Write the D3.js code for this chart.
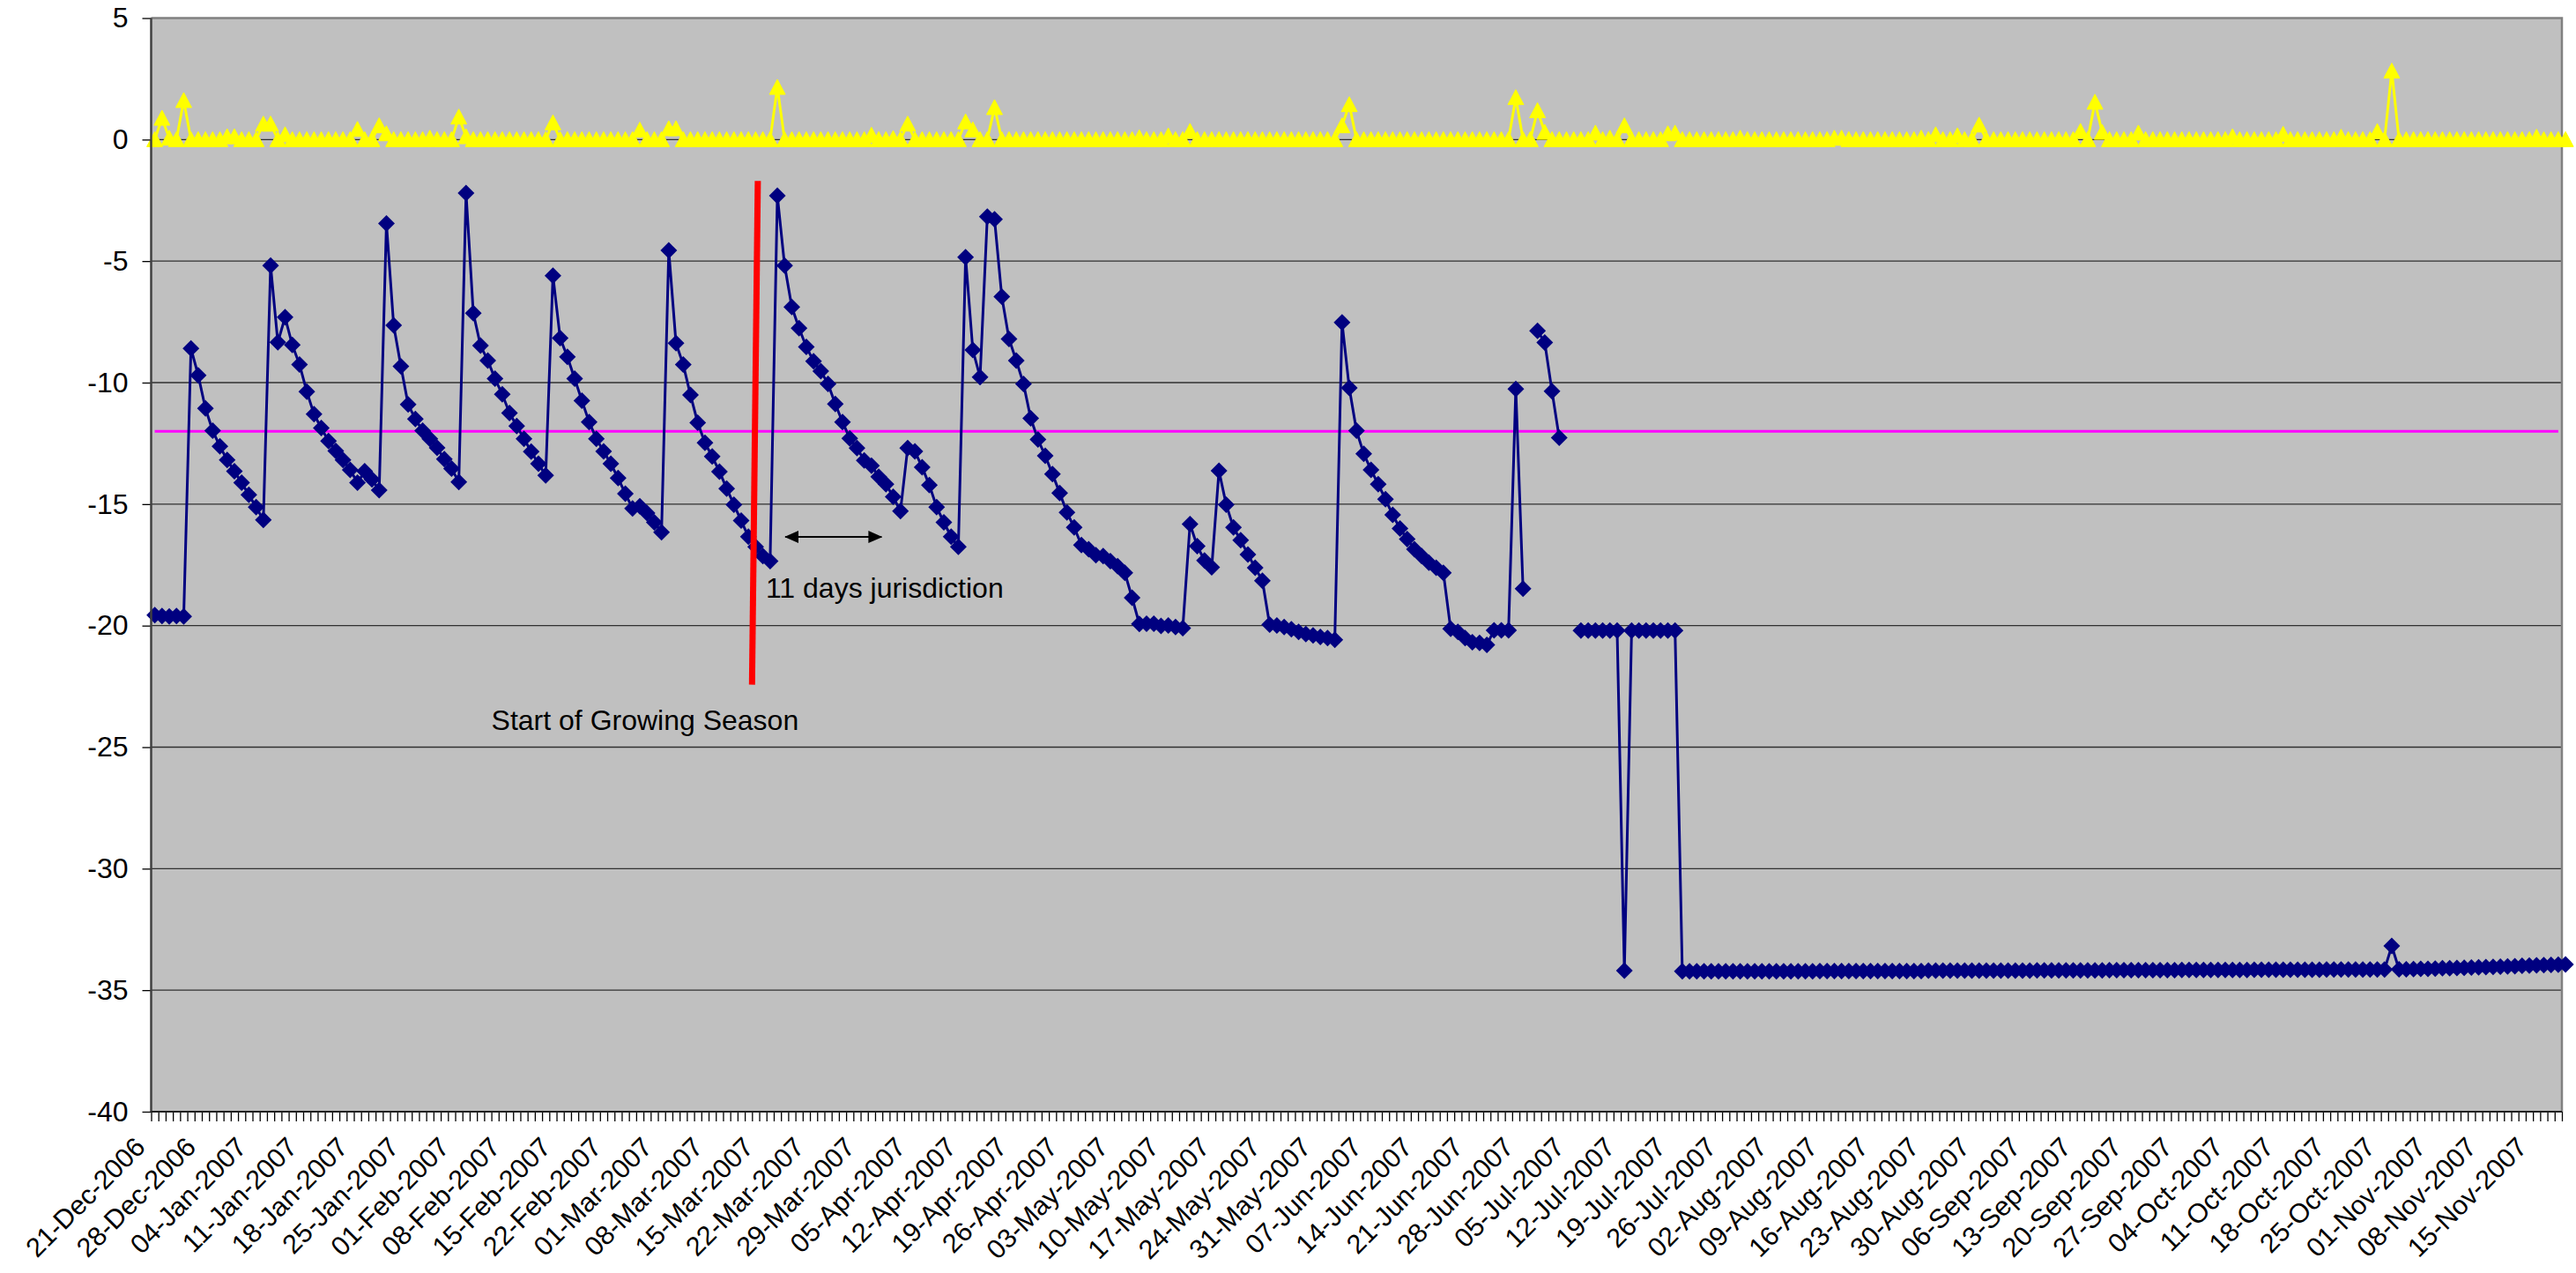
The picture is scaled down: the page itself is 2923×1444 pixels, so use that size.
<!DOCTYPE html>
<html><head><meta charset="utf-8">
<script src="https://cdn.jsdelivr.net/npm/d3@7"></script>
<style>
body{margin:0;background:#fff;}
text{font-family:"Liberation Sans",Arial,sans-serif;}
</style>
</head><body>
<svg id="chart" width="2923" height="1444"></svg>
<script>
// ---------------- data ----------------
const startDate = "2006-12-21";
const endDate = "2007-11-18";
const tickStep = 7;
const tickLabels = ["21-Dec-2006","28-Dec-2006","04-Jan-2007","11-Jan-2007","18-Jan-2007","25-Jan-2007",
"01-Feb-2007","08-Feb-2007","15-Feb-2007","22-Feb-2007","01-Mar-2007","08-Mar-2007","15-Mar-2007",
"22-Mar-2007","29-Mar-2007","05-Apr-2007","12-Apr-2007","19-Apr-2007","26-Apr-2007","03-May-2007",
"10-May-2007","17-May-2007","24-May-2007","31-May-2007","07-Jun-2007","14-Jun-2007","21-Jun-2007",
"28-Jun-2007","05-Jul-2007","12-Jul-2007","19-Jul-2007","26-Jul-2007","02-Aug-2007","09-Aug-2007",
"16-Aug-2007","23-Aug-2007","30-Aug-2007","06-Sep-2007","13-Sep-2007","20-Sep-2007","27-Sep-2007",
"04-Oct-2007","11-Oct-2007","18-Oct-2007","25-Oct-2007","01-Nov-2007","08-Nov-2007","15-Nov-2007"];
const yTickValues = [5,0,-5,-10,-15,-20,-25,-30,-35,-40];
const gridValues = [0,-5,-10,-15,-20,-25,-30,-35];

// blue series (water level)
const waterLevel = [
-19.57,-19.6,-19.62,-19.6,-19.62,-8.59,-9.7,-11.06,-11.98,-12.62,
-13.18,-13.65,-14.12,-14.62,-15.12,-15.65,-5.18,-8.34,-7.31,-8.45,
-9.26,-10.37,-11.3,-11.87,-12.4,-12.81,-13.18,-13.59,-14.12,-13.65,
-13.98,-14.43,-3.45,-7.64,-9.33,-10.9,-11.5,-11.98,-12.31,-12.68,
-13.15,-13.54,-14.09,-2.2,-7.14,-8.48,-9.09,-9.84,-10.48,-11.25,
-11.79,-12.31,-12.84,-13.34,-13.82,-5.6,-8.17,-8.94,-9.84,-10.74,
-11.62,-12.31,-12.83,-13.34,-13.93,-14.57,-15.18,-15.09,-15.37,-15.75,
-16.16,-4.56,-8.38,-9.26,-10.51,-11.65,-12.48,-13.04,-13.66,-14.36,
-15.02,-15.68,-16.34,-16.76,-17.14,-17.35,-2.31,-5.18,-6.89,-7.76,
-8.53,-9.12,-9.53,-10.05,-10.88,-11.62,-12.29,-12.69,-13.2,-13.42,
-13.87,-14.18,-14.7,-15.29,-12.69,-12.83,-13.48,-14.22,-15.12,-15.75,
-16.34,-16.76,-4.84,-8.66,-9.77,-3.17,-3.28,-6.46,-8.2,-9.09,
-10.05,-11.47,-12.34,-13.01,-13.76,-14.54,-15.34,-15.96,-16.68,-16.86,
-17.1,-17.14,-17.35,-17.55,-17.83,-18.85,-19.93,-19.92,-19.92,-20.01,
-19.99,-20.06,-20.1,-15.82,-16.73,-17.32,-17.6,-13.63,-15.02,-15.96,
-16.48,-17.07,-17.62,-18.15,-19.96,-19.99,-20.06,-20.15,-20.26,-20.35,
-20.4,-20.47,-20.51,-20.58,-7.52,-10.22,-11.98,-12.93,-13.59,-14.18,
-14.8,-15.44,-16.0,-16.44,-16.86,-17.14,-17.41,-17.62,-17.83,-20.13,
-20.26,-20.51,-20.68,-20.71,-20.79,-20.19,-20.19,-20.19,-10.26,-18.48,
null,-7.87,-8.35,-10.35,-12.27,null,null,-20.2,-20.2,-20.2,
-20.2,-20.2,-20.2,-34.2,-20.2,-20.2,-20.2,-20.2,-20.2,-20.2,
-20.2,-34.22,-34.22,-34.22,-34.22,-34.22,-34.22,-34.22,-34.22,-34.22,
-34.22,-34.22,-34.22,-34.22,-34.22,-34.22,-34.22,-34.22,-34.22,-34.22,
-34.21,-34.21,-34.21,-34.21,-34.21,-34.21,-34.21,-34.21,-34.21,-34.21,
-34.21,-34.21,-34.21,-34.21,-34.21,-34.2,-34.2,-34.2,-34.2,-34.2,
-34.2,-34.2,-34.2,-34.2,-34.2,-34.2,-34.2,-34.2,-34.2,-34.2,
-34.19,-34.19,-34.19,-34.19,-34.19,-34.19,-34.19,-34.19,-34.19,-34.19,
-34.18,-34.18,-34.18,-34.18,-34.18,-34.18,-34.18,-34.18,-34.18,-34.18,
-34.17,-34.17,-34.17,-34.17,-34.17,-34.17,-34.17,-34.17,-34.17,-34.17,
-34.16,-34.16,-34.16,-34.16,-34.16,-34.16,-34.16,-34.16,-34.16,-34.16,
-34.15,-34.15,-34.15,-34.15,-34.15,-34.15,-34.15,-34.15,-34.15,-33.18,
-34.14,-34.14,-34.13,-34.12,-34.12,-34.11,-34.1,-34.1,-34.09,-34.08,
-34.07,-34.06,-34.05,-34.04,-34.03,-34.02,-34.01,-34.0,-33.99,-33.98,
-33.97,-33.96,-33.95,-33.94];

// yellow series (rainfall)
const rainfall = [
0,0.88,0.06,0,1.61,0,0,0,0,0,
0.12,0.12,0,0,0,0.64,0.64,0,0.2,0,
0,0,0,0,0,0,0,0,0.42,0,
0,0.57,0.24,0,0,0,0,0,0.06,0,
0,0,0.93,0.12,0,0,0,0,0,0,
0,0,0,0,0,0.69,0,0,0,0,
0,0,0,0,0,0,0,0.39,0,0,
0,0.45,0.45,0,0,0,0,0,0,0,
0,0,0,0,0,0,2.15,0,0,0,
0,0,0,0,0,0,0,0,0,0.18,
0,0,0.04,0,0.64,0,0,0,0,0,
0,0,0.73,0.4,0,0,1.32,0,0,0,
0,0,0,0,0,0,0,0,0,0,
0,0,0,0,0,0,0.08,0,0,0,
0.15,0,0,0.34,0,0,0,0,0,0,
0,0,0,0,0,0,0,0,0,0,
0,0,0,0,0.57,1.44,0,0,0,0,
0,0,0,0,0,0,0,0,0,0,
0,0,0,0,0,0,0,0,1.73,0,
0,1.19,0.3,0,0,0,0,0,0,0.27,
0,0.06,0,0.57,0,0,0,0,0,0.24,
0.27,0,0,0,0,0,0,0,0,0.06,
0,0,0,0,0,0,0,0,0,0,
0,0,0.06,0.06,0,0,0,0,0,0,
0,0,0,0,0.06,0,0.2,0,0,0.16,
0,0,0.6,0,0,0,0,0,0,0,
0,0,0,0,0,0,0.34,0,1.54,0.3,
0,0,0,0,0.27,0,0,0,0,0,
0,0,0,0,0,0,0,0.12,0,0,
0,0,0,0,0.22,0,0,0,0,0,
0,0,0.1,0,0,0,0,0.33,0,2.82,
0,0,0,0,0,0,0,0,0,0,
0,0,0,0,0,0,0,0,0,0.1,
0,0,0,0];

const thresholdLevel = -12;

// annotations (category index, value)
const seasonLine = {x1: 83.3, y1: -1.7, x2: 82.5, y2: -22.43};
const seasonText = {x: 46.5, y: -24.3, label: "Start of Growing Season"};
const arrowSpan = {x1: 87.1, x2: 100.4, y: -16.35};
const arrowText = {x: 84.4, y: -18.85, label: "11 days jurisdiction"};

// ---------------- chart ----------------
const parseDay = d3.timeParse("%Y-%m-%d");
const categories = d3.timeDay.range(parseDay(startDate), d3.timeDay.offset(parseDay(endDate), 1));
const n = categories.length;

const svg = d3.select("#chart");
svg.append("rect").attr("width",2923).attr("height",1444).attr("fill","#fff");

const L = 171.5, R = 2907, T = 20.5, B = 1261;
const x = d3.scaleLinear().domain([-0.5, n - 0.5]).range([L, R]);
const y = d3.scaleLinear().domain([-40, 5]).range([B, T]);
const FS = 32;
const XFS = 30.5;

// plot background
svg.append("rect").attr("x",L).attr("y",T).attr("width",R-L).attr("height",B-T).attr("fill","#C0C0C0");

// gridlines
svg.append("g").selectAll("line").data(gridValues).join("line")
  .attr("x1",L).attr("x2",R).attr("y1",d=>y(d)).attr("y2",d=>y(d))
  .attr("stroke","#303030").attr("stroke-width",1.3);

// border top/right
svg.append("path").attr("d",`M${L},${T}H${R}V${B}`).attr("fill","none").attr("stroke","#808080").attr("stroke-width",2.5);

// threshold line
svg.append("line").attr("x1",x(0)).attr("x2",x(n-1)).attr("y1",y(thresholdLevel)).attr("y2",y(thresholdLevel))
  .attr("stroke","#FF00FF").attr("stroke-width",3);

// rainfall series
const rainLine = d3.line().defined(d=>d!=null).x((d,i)=>x(i)).y(d=>y(d));
svg.append("path").attr("d",rainLine(rainfall)).attr("fill","none").attr("stroke","#FFFF00").attr("stroke-width",3);
svg.append("g").selectAll("path").data(rainfall.map((v,i)=>({v,i})).filter(d=>d.v!=null)).join("path")
  .attr("transform",d=>`translate(${x(d.i)},${y(d.v)})`)
  .attr("d","M0,-9 L9,8 L-9,8 Z").attr("fill","#FFFF00").attr("stroke","#FFFF00").attr("stroke-width",1);

// water level series
const waterLine = d3.line().defined(d=>d!=null).x((d,i)=>x(i)).y(d=>y(d));
svg.append("path").attr("d",waterLine(waterLevel)).attr("fill","none").attr("stroke","#000080").attr("stroke-width",3);
svg.append("g").selectAll("path").data(waterLevel.map((v,i)=>({v,i})).filter(d=>d.v!=null)).join("path")
  .attr("transform",d=>`translate(${x(d.i)},${y(d.v)})`)
  .attr("d","M0,-9.5 L9.5,0 L0,9.5 L-9.5,0 Z").attr("fill","#000080");

// axes
const boundaries = d3.range(n + 1).map(i => i - 0.5);
const xAxis = svg.append("g").attr("transform",`translate(0,${B})`)
  .call(d3.axisBottom(x).tickValues(boundaries).tickSize(11).tickFormat(""));
xAxis.select(".domain").remove();
xAxis.selectAll(".tick line").attr("stroke","#000").attr("stroke-width",1.3);

const yAxis = svg.append("g").attr("transform",`translate(${L},0)`)
  .call(d3.axisLeft(y).tickValues(yTickValues).tickSize(10).tickPadding(16).tickFormat(d=>String(d)));
yAxis.select(".domain").remove();
yAxis.selectAll(".tick line").attr("stroke","#000").attr("stroke-width",1.3);
yAxis.selectAll("text").attr("font-size",FS).attr("fill","#000").attr("font-family",'"Liberation Sans",Arial,sans-serif');

svg.append("line").attr("x1",L).attr("x2",L).attr("y1",T).attr("y2",B).attr("stroke","#404040").attr("stroke-width",2.5);
svg.append("line").attr("x1",L).attr("x2",R).attr("y1",B).attr("y2",B).attr("stroke","#202020").attr("stroke-width",2);

// x tick labels
svg.append("g").selectAll("text").data(tickLabels).join("text")
  .attr("transform",(d,k)=>`translate(${x(k*tickStep)-9},${B+42}) rotate(-45)`)
  .attr("text-anchor","end").attr("font-size",XFS).attr("fill","#000").text(d=>d);

// start of growing season line
svg.append("line").attr("x1",x(seasonLine.x1)).attr("y1",y(seasonLine.y1))
  .attr("x2",x(seasonLine.x2)).attr("y2",y(seasonLine.y2))
  .attr("stroke","#FF0000").attr("stroke-width",7);
svg.append("text").attr("x",x(seasonText.x)).attr("y",y(seasonText.y)).attr("font-size",FS).attr("fill","#000").text(seasonText.label);

// double arrow
const defs = svg.append("defs");
defs.append("marker").attr("id","ah").attr("viewBox","0 0 16 16").attr("refX",15).attr("refY",8)
  .attr("markerWidth",16).attr("markerHeight",16).attr("markerUnits","userSpaceOnUse").attr("orient","auto-start-reverse")
  .append("path").attr("d","M0,1 L16,8 L0,15 Z").attr("fill","#000");
svg.append("line").attr("x1",x(arrowSpan.x1)).attr("x2",x(arrowSpan.x2)).attr("y1",y(arrowSpan.y)).attr("y2",y(arrowSpan.y))
  .attr("stroke","#000").attr("stroke-width",2).attr("marker-start","url(#ah)").attr("marker-end","url(#ah)");
svg.append("text").attr("x",x(arrowText.x)).attr("y",y(arrowText.y)).attr("font-size",FS).attr("fill","#000").text(arrowText.label);
</script>
</body></html>
